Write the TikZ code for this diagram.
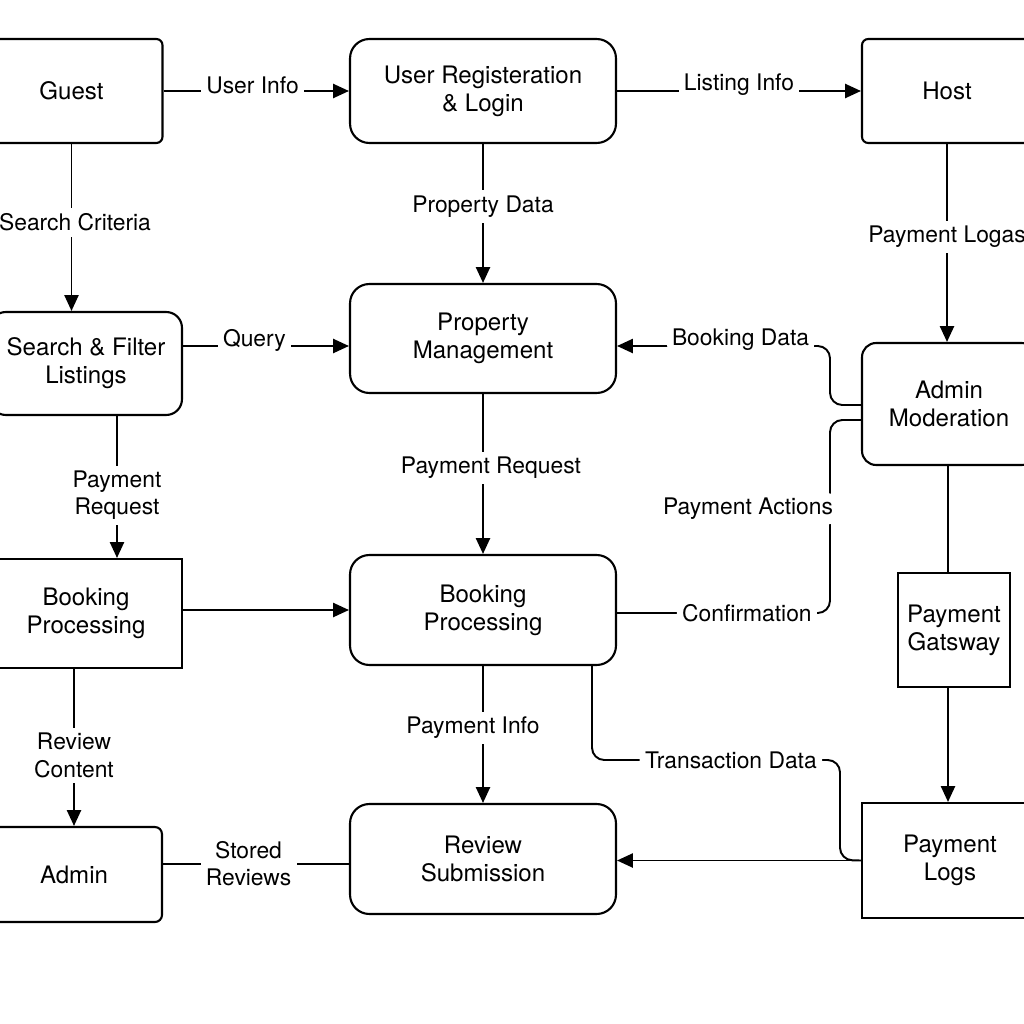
\documentclass[tikz,border=0pt]{standalone}
\usepackage{fontspec}
\setmainfont{TeX Gyre Heros}
\usetikzlibrary{
    arrows.meta,
    calc,
    positioning,
}

\newcommand{\boxfont}{\fontsize{13.7}{16}\selectfont}
\newcommand{\flowfont}{\fontsize{13}{15.5}\selectfont}

\begin{document}
\begin{tikzpicture}[x=0.02cm, y=-0.02cm, >={Triangle[length=9pt,width=8pt]}, line width=1.1pt]

    \tikzstyle{commonNode}=[draw=black, line width=1.2pt, align=center, font=\boxfont, inner sep=0pt]
    \tikzstyle{module}=[commonNode, rounded corners=11pt, minimum width=5.32cm]
    \tikzstyle{entity}=[commonNode, rounded corners=3.5pt]
    \tikzstyle{store}=[commonNode]
    \tikzstyle{flowLabel}=[fill=white, font=\flowfont, align=center, inner sep=3pt]
    \tikzstyle{raisedLabel}=[flowLabel, yshift=0.12cm]
    \tikzstyle{bent}=[rounded corners=7pt]

    % Page size
    \useasboundingbox (0,0) rectangle (1024,1024);

    % Top row
    \node at (71.5, 91)  [entity, minimum width=3.64cm, minimum height=2.08cm] (guest) {Guest};
    \node at (483, 91)   [module, minimum height=2.08cm] (reg) {User Registeration\\\& Login};
    \node at (947, 91)   [entity, minimum width=3.4cm, minimum height=2.08cm]  (host) {Host};

    % Second row
    \node at (86, 363.5) [commonNode, rounded corners=9pt, minimum width=3.84cm, minimum height=2.06cm] (srch) {Search \& Filter\\Listings};
    \node at (483, 338.5) [module, minimum height=2.18cm] (prop) {Property\\Management};
    \node at (949, 404)  [commonNode, rounded corners=8pt, minimum width=3.48cm, minimum height=2.44cm] (admod) {Admin\\Moderation};

    % Third row
    \node at (86, 613.5) [store, minimum width=3.84cm, minimum height=2.18cm] (bpl) {Booking\\Processing};
    \node at (483, 610)  [module, minimum height=2.2cm] (bpc) {Booking\\Processing};
    \node at (954, 630)  [store, minimum width=2.24cm, minimum height=2.28cm] (gat) {Payment\\Gatsway};

    % Bottom row
    \node at (74, 874.5) [entity, rounded corners=4pt, minimum width=3.52cm, minimum height=1.9cm] (adm) {Admin};
    \node at (483, 859)  [module, minimum height=2.2cm] (rev) {Review\\Submission};
    \node at (950, 860.5) [store, minimum width=3.52cm, minimum height=2.3cm] (logs) {Payment\\Logs};

    % Horizontal flows
    \draw[->] (guest.east) -- node[raisedLabel, pos=0.48] {User Info} (reg.west);
    \draw[->] (reg.east) -- node[raisedLabel, pos=0.5] {Listing Info} (host.west |- reg.east);
    \draw[->] (srch.east |- 0,346) -- node[raisedLabel, pos=0.43] {Query} (prop.west |- 0,346);
    \draw[->] (bpl.east |- bpc.west) -- (bpc.west);
    \draw (adm.east |- 0,864) -- node[flowLabel, pos=0.46] {Stored\\Reviews} (rev.west |- 0,864);
    \draw[->] (logs.west) -- (rev.east |- logs.west);

    % Vertical flows
    \draw[->] (guest.south) -- node[flowLabel, pos=0.47, xshift=0.07cm] {Search Criteria} (srch.north -| guest.south);
    \draw[->] (reg.south) -- node[flowLabel, pos=0.45] {Property Data} (prop.north);
    \draw[->] (host.south) -- node[flowLabel, pos=0.47] {Payment Logas} (admod.north -| host.south);
    \draw[->] (srch.south -| 117,0) -- node[flowLabel, pos=0.56] {Payment\\Request} (bpl.north -| 117,0);
    \draw[->] (prop.south) -- node[flowLabel, pos=0.46, xshift=0.16cm] {Payment Request} (bpc.north);
    \draw[->] (bpc.south) -- node[flowLabel, pos=0.45, xshift=-0.2cm] {Payment Info} (rev.north);
    \draw[->] (adm.north |- bpl.south) -- node[flowLabel, pos=0.55] {Review\\Content} (adm.north);
    \draw (admod.south -| 948,0) -- (gat.north -| 948,0);
    \draw[->] (gat.south -| 948,0) -- (logs.north -| 948,0);

    % Bent flows
    \draw[->, bent] (admod.west |- 0,405) -- (830,405) -- (830,346)
        -- node[raisedLabel, pos=0.42] {Booking Data} (prop.east |- 0,346);
    \draw[bent] (bpc.east |- 0,613) -- node[flowLabel, pos=0.61] {Confirmation} (830,613)
        -- node[flowLabel, pos=0.54, xshift=-1.64cm] {Payment Actions} (830,420)
        -- (admod.west |- 0,420);
    \draw[bent] (bpc.south -| 592,0) -- (592,760)
        -- node[flowLabel, pos=0.56] {Transaction Data} (840,760)
        -- (840,860) -- (logs.west);

\end{tikzpicture}
\end{document}
